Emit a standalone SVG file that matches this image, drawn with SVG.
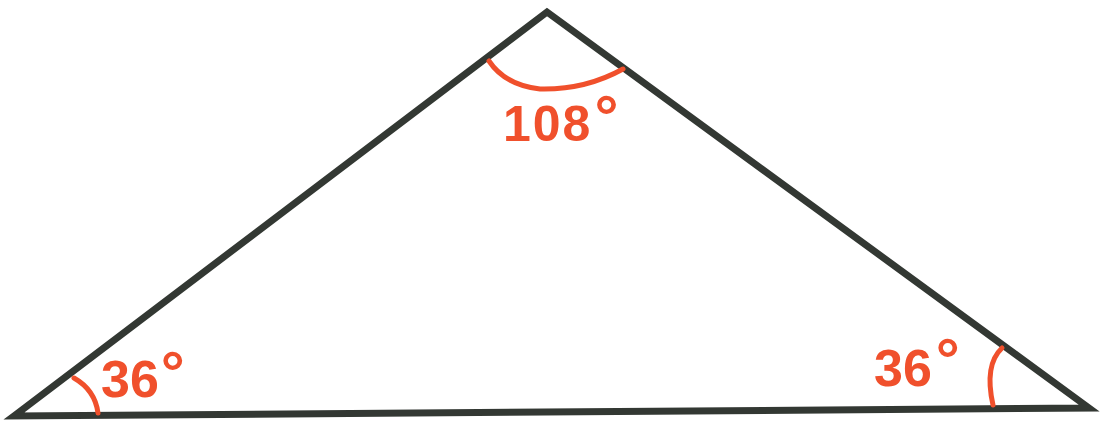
<svg xmlns="http://www.w3.org/2000/svg" width="1100" height="422" viewBox="0 0 1100 422">
<style>
.edge{fill:none;stroke:#333833;stroke-width:7;stroke-linejoin:miter;stroke-linecap:square}
.arc{fill:none;stroke:#f0502c;stroke-width:5;stroke-linecap:round}
.lbl{font-family:"Liberation Sans",Arial,sans-serif;fill:#f0502c;font-weight:bold}
.deg{font-size:60px;font-weight:bold}
</style>
<rect width="1100" height="422" fill="#ffffff"/>
<g id="triangle">
<path class="edge" d="M 14 416 L 547 12 L 1089 408 Z"/>
</g>
<g id="angle-top">
<path class="arc" d="M 489 61 Q 505 85 540 89 Q 585 90 623 69"/>
<text class="lbl" x="503" y="141" font-size="50" letter-spacing="2">108<tspan class="deg" dx="2" dy="-4">°</tspan></text>
</g>
<g id="angle-left">
<path class="arc" d="M 74 378 Q 95 390 98 413"/>
<text class="lbl" x="101" y="397" font-size="52">36<tspan class="deg" dx="2" dy="-4">°</tspan></text>
</g>
<g id="angle-right">
<path class="arc" d="M 1002 348 Q 984 365 993 405"/>
<text class="lbl" x="874" y="386" font-size="52">36<tspan class="deg" dx="4" dy="-6">°</tspan></text>
</g>
</svg>
